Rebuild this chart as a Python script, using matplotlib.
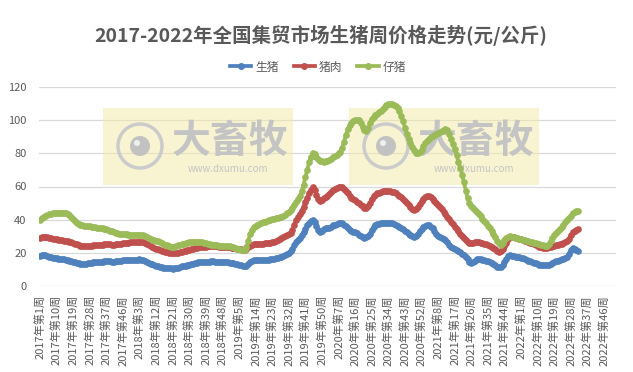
import matplotlib
matplotlib.use("Agg")
import matplotlib.pyplot as plt
from matplotlib.patches import Rectangle, Ellipse
from matplotlib.lines import Line2D

plt.rcParams['font.family'] = ['Noto Sans CJK SC', 'DejaVu Sans']

# ---------------- data ----------------
years = [2017, 2018, 2019, 2020, 2021, 2022]
weeks_per_year = [52, 52, 52, 53, 52, 52]
series_names = ["生猪", "猪肉", "仔猪"]
title = "2017-2022年全国集贸市场生猪周价格走势(元/公斤)"

pig_2017 = [18.3, 18.5, 18.6, 18.4, 18.0, 17.6, 17.3, 17.1, 16.9, 16.7,
            16.5, 16.4, 16.2, 16.0, 15.7, 15.4, 15.1, 14.8, 14.5, 14.2,
            13.9, 13.6, 13.4, 13.3, 13.4, 13.5, 13.6, 13.8, 14.0, 14.2,
            14.3, 14.4, 14.5, 14.6, 14.7, 14.8, 14.9, 14.9, 14.8, 14.7,
            14.7, 14.8, 14.9, 15.0, 15.2, 15.4, 15.6, 15.7, 15.8, 15.8,
            15.7, 15.7]
pig_2018 = [15.8, 15.9, 16.0, 15.9, 15.6, 15.1, 14.5, 13.9, 13.4, 13.0,
            12.6, 12.2, 11.9, 11.6, 11.3, 11.1, 10.9, 10.8, 10.7, 10.6,
            10.5, 10.6, 10.8, 11.1, 11.5, 11.8, 12.1, 12.3, 12.5, 12.8,
            13.2, 13.5, 13.8, 14.1, 14.3, 14.4, 14.5, 14.5, 14.6, 14.7,
            14.7, 14.8, 14.8, 14.7, 14.7, 14.6, 14.5, 14.4, 14.3, 14.3,
            14.2, 14.1]
pig_2019 = [13.9, 13.7, 13.5, 13.2, 12.9, 12.6, 12.3, 12.1, 12.3, 13.2,
            14.3, 15.0, 15.4, 15.6, 15.7, 15.7, 15.6, 15.6, 15.7, 15.8,
            15.9, 16.0, 16.2, 16.4, 16.7, 17.0, 17.3, 17.6, 18.0, 18.6,
            19.4, 20.2, 21.0, 22.5, 24.5, 26.8, 28.0, 29.0, 30.5, 32.5,
            34.5, 36.5, 37.8, 39.0, 39.8, 38.6, 36.2, 33.8, 32.7, 33.3,
            34.2, 35.0]
pig_2020 = [35.0, 35.2, 35.8, 36.5, 37.0, 37.4, 37.8, 38.0, 37.8, 37.0,
            36.0, 35.0, 34.0, 33.3, 32.8, 32.3, 31.7, 31.0, 30.3, 29.6,
            29.2, 29.3, 30.0, 31.5, 33.5, 35.5, 36.7, 37.2, 37.5, 37.7,
            37.9, 38.0, 38.1, 38.1, 38.0, 37.7, 37.3, 36.8, 36.2, 35.6,
            35.0, 34.2, 33.3, 32.4, 31.4, 30.6, 30.0, 29.7, 30.2, 31.5,
            33.0, 34.3, 35.4]
pig_2021 = [36.0, 36.8, 36.6, 35.8, 34.8, 33.2, 31.5, 30.2, 29.5, 29.0,
            28.4, 27.7, 26.5, 25.0, 23.8, 23.0, 22.3, 21.6, 21.0, 20.3,
            19.5, 18.7, 17.5, 16.0, 14.7, 14.0, 14.3, 15.2, 16.0, 16.3,
            16.2, 15.9, 15.6, 15.2, 14.9, 14.5, 13.9, 13.2, 12.4, 11.6,
            11.2, 11.5, 12.8, 14.5, 16.5, 18.0, 18.5, 18.3, 18.0, 17.7,
            17.5, 17.3]
pig_2022 = [17.0, 16.6, 16.1, 15.6, 15.2, 14.8, 14.4, 14.0, 13.6, 13.2,
            12.9, 12.7, 12.6, 12.5, 12.6, 12.9, 13.3, 13.8, 14.3, 14.8,
            15.3, 15.7, 16.1, 16.5, 17.0, 17.7, 19.3, 21.5, 23.0, 22.4,
            21.8, 21.3]

pork_2017 = [29.1, 29.3, 29.6, 29.7, 29.6, 29.2, 28.8, 28.5, 28.3, 28.2,
             28.0, 27.8, 27.6, 27.4, 27.2, 27.0, 26.7, 26.3, 25.9, 25.5,
             25.1, 24.7, 24.4, 24.2, 24.1, 24.1, 24.2, 24.3, 24.4, 24.5,
             24.6, 24.7, 24.8, 24.9, 25.0, 25.1, 25.2, 25.2, 25.1, 25.0,
             25.0, 25.1, 25.2, 25.3, 25.5, 25.7, 25.9, 26.1, 26.2, 26.3,
             26.4, 26.5]
pork_2018 = [26.6, 26.7, 26.8, 26.7, 26.4, 25.9, 25.3, 24.7, 24.1, 23.5,
             23.0, 22.6, 22.2, 21.8, 21.4, 21.0, 20.7, 20.4, 20.2, 20.0,
             19.8, 19.8, 19.9, 20.1, 20.4, 20.7, 21.0, 21.3, 21.6, 21.9,
             22.2, 22.5, 22.8, 23.1, 23.3, 23.5, 23.6, 23.7, 23.8, 23.9,
             24.0, 24.0, 24.0, 24.0, 23.9, 23.8, 23.7, 23.6, 23.5, 23.5,
             23.4, 23.3]
pork_2019 = [23.2, 23.0, 22.8, 22.6, 22.4, 22.2, 22.0, 21.9, 22.3, 23.3,
             24.4, 25.0, 25.3, 25.4, 25.4, 25.4, 25.5, 25.6, 25.7, 25.8,
             26.0, 26.2, 26.5, 26.8, 27.2, 27.7, 28.3, 28.9, 29.5, 30.1,
             30.7, 31.3, 32.0, 34.0, 37.0, 39.5, 41.5, 43.5, 45.5, 47.8,
             50.5, 53.0, 55.8, 58.0, 59.4, 58.0, 55.0, 52.5, 51.3, 51.8,
             52.8, 53.8]
pork_2020 = [54.5, 55.3, 56.5, 57.6, 58.5, 59.2, 59.7, 59.9, 59.6, 58.6,
             57.3, 55.8, 54.3, 53.3, 52.5, 51.7, 50.8, 49.9, 48.9, 48.0,
             47.2, 47.3, 48.2, 50.0, 52.2, 54.0, 55.1, 55.8, 56.3, 56.7,
             57.0, 57.2, 57.3, 57.3, 57.2, 56.9, 56.4, 55.8, 55.1, 54.4,
             53.6, 52.6, 51.4, 50.2, 48.9, 47.6, 46.5, 45.9, 46.4, 47.8,
             49.5, 51.0, 52.3]
pork_2021 = [53.5, 54.3, 54.2, 53.5, 52.5, 51.3, 50.0, 48.8, 47.5, 46.2,
             44.8, 43.3, 41.8, 40.3, 38.8, 37.3, 35.8, 34.3, 33.0, 31.6,
             30.3, 29.2, 27.8, 26.6, 26.0, 25.9, 26.1, 26.3, 26.4, 26.3,
             26.1, 25.8, 25.5, 25.1, 24.7, 24.2, 23.6, 22.9, 22.1, 21.3,
             20.8, 21.0, 22.2, 24.0, 26.2, 28.3, 29.4, 29.6, 29.4, 29.1,
             28.8, 28.5]
pork_2022 = [28.2, 27.8, 27.4, 27.0, 26.6, 26.2, 25.8, 25.3, 24.8, 24.3,
             23.8, 23.4, 23.2, 23.0, 23.0, 23.3, 23.6, 23.9, 24.2, 24.5,
             24.8, 25.1, 25.4, 25.8, 26.3, 27.0, 28.2, 30.5, 32.5, 33.4,
             34.0, 34.4]

piglet_2017 = [39.8, 40.8, 41.8, 42.4, 42.8, 43.2, 43.6, 44.0, 44.2, 44.3,
               44.2, 44.1, 44.0, 43.9, 43.8, 43.6, 42.8, 41.6, 40.4, 39.2,
               38.2, 37.4, 36.9, 36.6, 36.4, 36.2, 36.0, 35.9, 35.7, 35.5,
               35.3, 35.1, 35.0, 34.9, 34.8, 34.5, 34.1, 33.7, 33.3, 32.9,
               32.5, 32.2, 31.9, 31.6, 31.4, 31.3, 31.2, 31.1, 31.0, 31.0,
               30.9, 30.9]
piglet_2018 = [30.9, 30.8, 30.8, 30.7, 30.5, 30.1, 29.5, 28.9, 28.4, 28.0,
               27.7, 27.4, 27.0, 26.5, 26.0, 25.5, 25.0, 24.5, 24.1, 23.8,
               23.7, 23.8, 24.1, 24.5, 24.9, 25.3, 25.6, 25.9, 26.1, 26.3,
               26.5, 26.6, 26.7, 26.7, 26.6, 26.5, 26.3, 26.1, 25.8, 25.5,
               25.2, 25.0, 24.8, 24.6, 24.5, 24.4, 24.3, 24.3, 24.2, 24.2,
               24.1, 24.0]
piglet_2019 = [23.8, 23.5, 23.0, 22.6, 22.2, 21.9, 21.7, 21.9, 23.5, 27.0,
               31.5, 34.0, 35.6, 36.4, 37.0, 37.5, 37.9, 38.3, 38.7, 39.1,
               39.5, 39.9, 40.3, 40.6, 40.9, 41.2, 41.5, 41.9, 42.4, 43.1,
               44.0, 44.9, 45.9, 47.3, 49.0, 50.5, 52.3, 54.2, 57.0, 61.0,
               65.5, 70.0, 74.5, 78.0, 80.0, 79.5, 77.8, 76.3, 75.5, 75.1,
               75.0, 75.2]
piglet_2020 = [75.5, 76.0, 76.8, 77.5, 78.2, 79.0, 80.0, 81.0, 83.5, 87.0,
               91.0, 94.5, 97.0, 98.5, 99.4, 100.0, 100.3, 100.0, 98.5, 96.0,
               93.8, 93.2, 95.0, 98.0, 100.5, 102.2, 103.2, 104.0, 104.8, 105.8,
               107.0, 108.2, 109.2, 109.7, 109.8, 109.6, 109.2, 108.5, 107.3, 105.5,
               102.8, 99.5, 95.5, 91.8, 88.5, 86.0, 83.8, 82.0, 80.5, 80.0,
               80.6, 82.2, 84.2]
piglet_2021 = [86.0, 87.6, 88.8, 89.8, 90.5, 91.0, 91.5, 92.0, 92.6, 93.3,
               94.0, 94.5, 93.8, 91.5, 88.5, 85.5, 82.5, 79.0, 75.0, 71.0,
               67.0, 62.5, 57.5, 53.0, 50.0, 48.2, 47.0, 45.8, 44.6, 43.3,
               42.0, 40.6, 39.2, 37.8, 36.3, 34.8, 33.2, 31.4, 29.4, 27.3,
               25.8, 24.8, 25.8, 27.5, 29.0, 29.8, 30.0, 29.8, 29.5, 29.2,
               28.9, 28.6]
piglet_2022 = [28.4, 28.0, 27.7, 27.4, 27.1, 26.8, 26.5, 26.2, 25.9, 25.6,
               25.3, 25.0, 24.7, 24.4, 24.3, 25.2, 27.0, 28.8, 30.5, 31.8,
               33.0, 34.3, 35.6, 37.0, 38.4, 39.7, 41.0, 42.4, 43.8, 44.8,
               45.3, 45.5]

pig = pig_2017 + pig_2018 + pig_2019 + pig_2020 + pig_2021 + pig_2022
pork = pork_2017 + pork_2018 + pork_2019 + pork_2020 + pork_2021 + pork_2022
piglet = piglet_2017 + piglet_2018 + piglet_2019 + piglet_2020 + piglet_2021 + piglet_2022

categories = [f"{y}年第{w}周" for y, n in zip(years, weeks_per_year) for w in range(1, n + 1)]
label_step = 9

# ---------------- figure ----------------
W, H = 633, 372
fig = plt.figure(figsize=(W / 100, H / 100), dpi=100)
ax = fig.add_axes([39 / W, 86 / H, 577 / W, 199 / H])

colors = ['#4F81BD', '#C0504D', '#9BBB59']
x_all = list(range(len(categories)))
for vals, c, name in zip([pig, pork, piglet], colors, series_names):
    ax.plot(x_all[:len(vals)], vals, color=c, lw=2.7, marker='o', ms=3.8,
            mec=c, mfc=c, label=name, zorder=3, solid_capstyle='round')

ax.set_xlim(-0.5, len(categories) - 0.5)
ax.set_ylim(0, 120)
ax.set_yticks(range(0, 121, 20))
ax.set_xticks(x_all[::label_step])
ax.set_xticklabels(categories[::label_step], rotation=90, fontsize=8,
                   color='#595959', va='top', ha='center')
ax.tick_params(axis='x', length=0, pad=6.5)
ax.tick_params(axis='y', length=0, pad=9, labelsize=8, labelcolor='#595959')
for s in ax.spines.values():
    s.set_visible(False)
ax.grid(axis='y', color='#D9D9D9', lw=0.9, zorder=0)
ax.set_axisbelow(True)
ax.patch.set_alpha(0)

# watermark boxes
for x0 in (103, 349):
    ax.add_patch(Rectangle((x0 / W, (H - 185) / H), 190 / W, 77 / H,
                           transform=fig.transFigure, facecolor='#F3EAA6',
                           alpha=0.5, edgecolor='none', zorder=1, clip_on=False))
    cx, cy, r = x0 + 37, 146, 22
    ax.add_patch(Ellipse((cx / W, (H - cy) / H), 2 * r / W, 2 * r / H,
                         transform=fig.transFigure, facecolor='none',
                         edgecolor='#CBCBCB', lw=2.5, zorder=1, clip_on=False))
    ax.add_patch(Ellipse((cx / W, (H - cy) / H), 20 / W, 20 / H,
                         transform=fig.transFigure, facecolor='#C2C2C2',
                         edgecolor='none', zorder=1, clip_on=False))
    ax.add_patch(Ellipse(((cx - 3) / W, (H - cy + 3) / H), 6 / W, 6 / H,
                         transform=fig.transFigure, facecolor='#EFEFEF',
                         edgecolor='none', zorder=1, clip_on=False))
    ax.text((x0 + 127) / W, (H - 141) / H, "大畜牧", transform=fig.transFigure,
            ha='center', va='center', fontsize=28, fontweight='bold',
            color='#C4C4C4', zorder=1)
    ax.text((x0 + 125) / W, (H - 169) / H, "www.dxumu.com", transform=fig.transFigure,
            ha='center', va='center', fontsize=7, color='#C4C4C4', zorder=1)

fig.text(321 / W, 1 - 35 / H, title, ha='center', va='center', fontsize=14,
         fontweight='bold', color='#595959')

handles = [Line2D([], [], color=c, lw=2.7, marker='o', ms=4, mec=c, mfc=c)
           for c in colors]
fig.legend(handles, series_names, loc='center', bbox_to_anchor=(318 / W, 1 - 67 / H),
           ncol=3, frameon=False, fontsize=8.5, handlelength=1.8,
           handletextpad=0.3, columnspacing=1.3, labelcolor='#595959')

fig.savefig("out.png", dpi=100)
